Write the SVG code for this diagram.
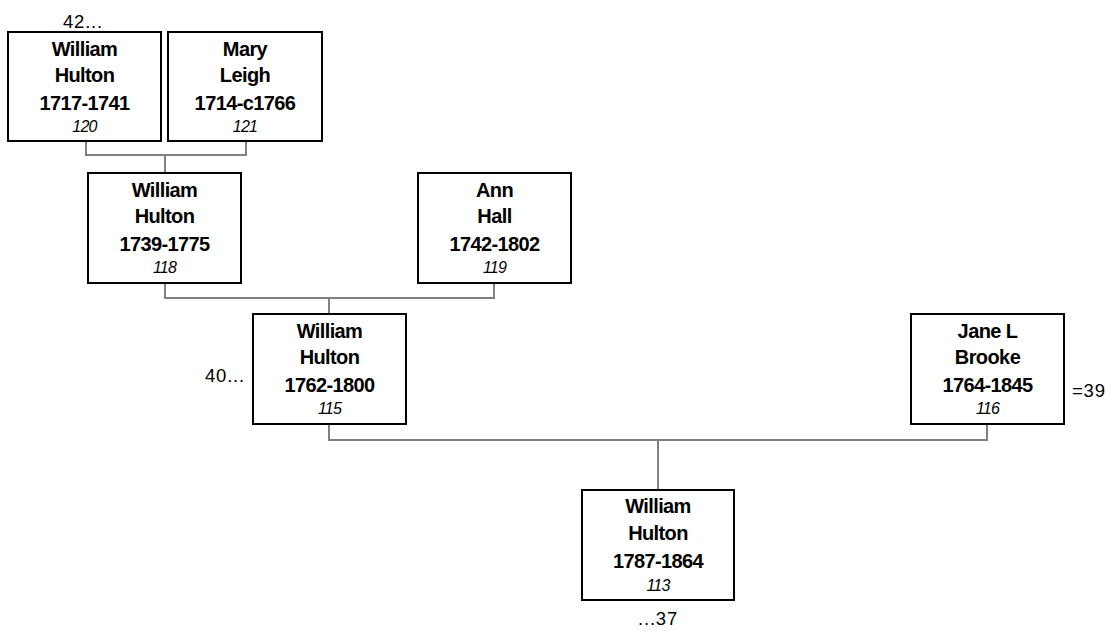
<svg xmlns="http://www.w3.org/2000/svg" width="1110" height="631" viewBox="0 0 1110 631">
<style>
.box{fill:#fff;stroke:#000;stroke-width:2}
.nm{font-family:"Liberation Sans",Arial,sans-serif;font-weight:bold;font-size:20px;letter-spacing:-0.6px;text-anchor:middle;fill:#000}
.id{font-family:"Liberation Sans",Arial,sans-serif;font-style:italic;font-size:16px;letter-spacing:-0.8px;text-anchor:middle;fill:#000}
.lbl{font-family:"Liberation Sans",Arial,sans-serif;font-size:18.5px;fill:#000;letter-spacing:0.8px}
.con{fill:none;stroke:#808080;stroke-width:2}
</style>
<rect width="1110" height="631" fill="#fff"/>
<g id="connectors">
<path class="con" d="M86,141 V155 H246 V141 M165,155 V173"/>
<path class="con" d="M165,283 V298 H494 V283 M329,298 V314"/>
<path class="con" d="M329,424 V440 H987 V424 M658,440 V490"/>
</g>
<g id="n120">
<rect class="box" x="8" y="32" width="153" height="109"/>
<text class="nm" x="84.5" y="55.5">William</text>
<text class="nm" x="84.5" y="82">Hulton</text>
<text class="nm" x="84.5" y="110">1717-1741</text>
<text class="id" x="84.5" y="132">120</text>
</g>
<g id="n121">
<rect class="box" x="168" y="32" width="154" height="109"/>
<text class="nm" x="245" y="55.5">Mary</text>
<text class="nm" x="245" y="82">Leigh</text>
<text class="nm" x="245" y="110">1714-c1766</text>
<text class="id" x="245" y="132">121</text>
</g>
<g id="n118">
<rect class="box" x="88" y="173" width="153" height="110"/>
<text class="nm" x="164.5" y="196.5">William</text>
<text class="nm" x="164.5" y="223">Hulton</text>
<text class="nm" x="164.5" y="251">1739-1775</text>
<text class="id" x="164.5" y="273">118</text>
</g>
<g id="n119">
<rect class="box" x="418" y="173" width="153" height="110"/>
<text class="nm" x="494.5" y="196.5">Ann</text>
<text class="nm" x="494.5" y="223">Hall</text>
<text class="nm" x="494.5" y="251">1742-1802</text>
<text class="id" x="494.5" y="273">119</text>
</g>
<g id="n115">
<rect class="box" x="253" y="314" width="153" height="110"/>
<text class="nm" x="329.5" y="337.5">William</text>
<text class="nm" x="329.5" y="364">Hulton</text>
<text class="nm" x="329.5" y="392">1762-1800</text>
<text class="id" x="329.5" y="414">115</text>
</g>
<g id="n116">
<rect class="box" x="911" y="314" width="153" height="110"/>
<text class="nm" x="987.5" y="337.5">Jane L</text>
<text class="nm" x="987.5" y="364">Brooke</text>
<text class="nm" x="987.5" y="392">1764-1845</text>
<text class="id" x="987.5" y="414">116</text>
</g>
<g id="n113">
<rect class="box" x="582" y="490" width="152" height="110"/>
<text class="nm" x="658" y="513">William</text>
<text class="nm" x="658" y="540">Hulton</text>
<text class="nm" x="658" y="567.5">1787-1864</text>
<text class="id" x="658" y="590.5">113</text>
</g>
<g id="labels">
<text class="lbl" x="63" y="28">42...</text>
<text class="lbl" x="205" y="382">40...</text>
<text class="lbl" x="1072" y="397">=39</text>
<text class="lbl" x="638" y="625">...37</text>
</g>
</svg>
